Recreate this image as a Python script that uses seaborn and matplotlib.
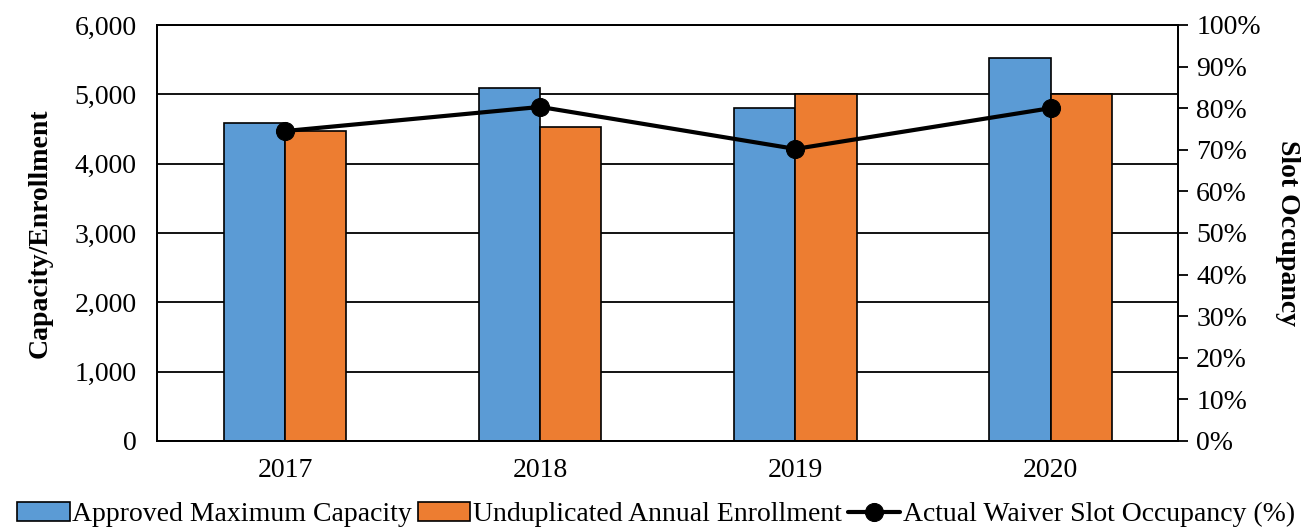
import pandas as pd
import seaborn as sns
import matplotlib.pyplot as plt
from matplotlib.ticker import FuncFormatter, PercentFormatter

years = ['2017', '2018', '2019', '2020']
capacity = [4590, 5090, 4800, 5520]
enrollment = [4470, 4530, 5010, 5010]
occupancy = [74.5, 80.3, 70.2, 80.0]

cap_name = 'Approved Maximum Capacity'
enr_name = 'Unduplicated Annual Enrollment'
occ_name = 'Actual Waiver Slot Occupancy (%)'

df = pd.DataFrame({
    'Year': years * 2,
    'Value': capacity + enrollment,
    'Series': [cap_name] * 4 + [enr_name] * 4,
})

sns.set_style('white')
plt.rcParams['font.family'] = ['Liberation Serif', 'DejaVu Serif']
plt.rcParams['font.size'] = 20
plt.rcParams['text.color'] = 'black'
plt.rcParams['axes.labelcolor'] = 'black'
plt.rcParams['xtick.color'] = 'black'
plt.rcParams['ytick.color'] = 'black'

fig = plt.figure(figsize=(13.12, 5.31), dpi=100)
ax = fig.add_axes([0.12, 0.1695, 0.778, 0.7835])

ax.set_axisbelow(True)
ax.yaxis.grid(True, color='black', linewidth=1.3)
sns.barplot(data=df, x='Year', y='Value', hue='Series', ax=ax, width=0.48,
            palette=['#5b9bd5', '#ed7d31'], edgecolor='black', linewidth=1.2,
            saturation=1)
ax.set_ylim(0, 6000)
ax.set_yticks(range(0, 6001, 1000))
ax.yaxis.set_major_formatter(FuncFormatter(lambda v, p: f'{int(v):,}'))
ax.set_xlabel('')
ax.set_ylabel('Capacity/Enrollment', fontweight='bold', fontsize=20, labelpad=16)
ax.tick_params(axis='y', length=0, labelsize=20, pad=15)
ax.tick_params(axis='x', length=0, labelsize=20, pad=12)
for s in ax.spines.values():
    s.set_color('black')
    s.set_linewidth(1.3)

ax2 = ax.twinx()
sns.lineplot(x=list(range(len(years))), y=occupancy, ax=ax2, color='black',
             linewidth=3, marker='o', markersize=13, markeredgecolor='black',
             label=occ_name)
ax2.set_ylim(0, 100)
ax2.set_yticks(range(0, 101, 10))
ax2.yaxis.set_major_formatter(PercentFormatter(decimals=0))
ax2.set_ylabel('Slot Occupancy', fontweight='bold', fontsize=20, rotation=-90,
               labelpad=28)
ax2.tick_params(axis='y', direction='out', length=7, width=1.3, labelsize=20,
                pad=6, color='black')
for s in ax2.spines.values():
    s.set_color('black')
    s.set_linewidth(1.3)
ax.set_xlim(-0.5, 3.5)

h1, l1 = ax.get_legend_handles_labels()
h2, l2 = ax2.get_legend_handles_labels()
ax.get_legend().remove()
ax2.get_legend().remove()
fig.legend(h1 + h2, l1 + l2, loc='lower center', bbox_to_anchor=(0.5, -0.04),
           ncol=3, frameon=False, fontsize=20, handlelength=1.9,
           handletextpad=0.1, columnspacing=0.2)

fig.savefig('out.png', dpi=100)
